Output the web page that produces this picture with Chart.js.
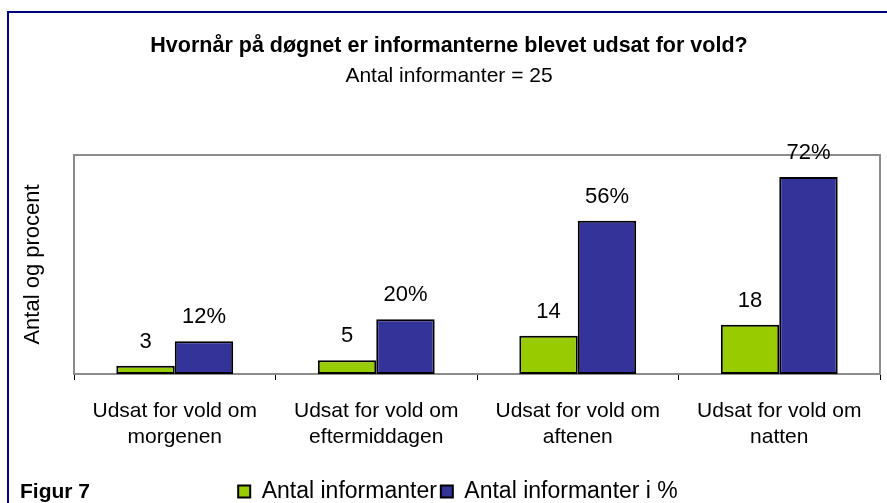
<!DOCTYPE html>
<html>
<head>
<meta charset="utf-8">
<script src="https://cdn.jsdelivr.net/npm/chart.js@4.4.1/dist/chart.umd.min.js"></script>
<style>
  html, body { margin: 0; padding: 0; background: #ffffff; }
  #wrap { width: 887px; height: 503px; position: relative; }
</style>
</head>
<body>
<div id="wrap"><canvas id="c" width="887" height="503"></canvas></div>
<script>
const categories = [
  ["Udsat for vold om", "morgenen"],
  ["Udsat for vold om", "eftermiddagen"],
  ["Udsat for vold om", "aftenen"],
  ["Udsat for vold om", "natten"]
];
const seriesNames = ["Antal informanter", "Antal informanter i %"];
const antal = [3, 5, 14, 18];
const procent = [12, 20, 56, 72];
const labelSuffix = ["", "%"];
const titleText = "Hvornår på døgnet er informanterne blevet udsat for vold?";
const subtitleText = "Antal informanter = 25";
const yTitle = "Antal og procent";
const figText = "Figur 7";

const FONT = "'Liberation Sans', Arial, Helvetica, sans-serif";

const framePlugin = {
  id: 'frame',
  beforeDatasetsDraw(chart) {
    const {ctx, chartArea: a} = chart;
    ctx.save();
    ctx.strokeStyle = '#8c8c8c';
    ctx.lineWidth = 2;
    ctx.strokeRect(a.left, a.top, a.right - a.left, a.bottom - a.top);
    ctx.restore();
  },
  afterDatasetsDraw(chart) {
    const {ctx} = chart;
    ctx.save();
    ctx.font = "22px " + FONT;
    ctx.fillStyle = '#000';
    ctx.textAlign = 'center';
    ctx.textBaseline = 'alphabetic';
    chart.data.datasets.forEach((ds, di) => {
      const meta = chart.getDatasetMeta(di);
      meta.data.forEach((el, i) => {
        ctx.fillText(ds.data[i] + labelSuffix[di], el.x, el.y - 18);
      });
    });
    ctx.restore();
  },
  afterDraw(chart) {
    const {ctx} = chart;
    ctx.save();
    ctx.strokeStyle = '#000080';
    ctx.lineWidth = 2;
    ctx.beginPath();
    ctx.moveTo(8, 600);
    ctx.lineTo(8, 12);
    ctx.lineTo(900, 12);
    ctx.stroke();
    ctx.font = "bold 21px " + FONT;
    ctx.fillStyle = '#000';
    ctx.textAlign = 'left';
    ctx.textBaseline = 'alphabetic';
    ctx.fillText(figText, 20, 498);
    ctx.restore();
  },
  afterLayout(chart) {
    const lg = chart.legend;
    if (lg) {
      lg.left += 9; lg.right += 9;
      lg.top += 10; lg.bottom += 10;
    }
  }
};

new Chart(document.getElementById('c'), {
  type: 'bar',
  data: {
    labels: categories,
    datasets: [
      { label: seriesNames[0], data: antal, backgroundColor: '#99cc00', borderColor: '#000000', borderWidth: 2, borderSkipped: false },
      { label: seriesNames[1], data: procent, backgroundColor: '#333399', borderColor: '#000000', borderWidth: 2, borderSkipped: false }
    ]
  },
  options: {
    responsive: false,
    animation: false,
    devicePixelRatio: 1,
    categoryPercentage: 0.58,
    barPercentage: 1.0,
    layout: { padding: { left: 18, right: 7, top: 0, bottom: 0 } },
    plugins: {
      title: {
        display: true, text: titleText, color: '#000',
        font: { family: FONT, size: 21.5, weight: 'bold' },
        padding: { top: 33, bottom: 5 }
      },
      subtitle: {
        display: true, text: subtitleText, color: '#000',
        font: { family: FONT, size: 21, weight: 'normal' },
        padding: { top: 0, bottom: 66 }
      },
      legend: {
        display: true, position: 'bottom',
        labels: {
          color: '#000', boxWidth: 12, boxHeight: 12, padding: 4,
          font: { family: FONT, size: 23 }
        }
      },
      tooltip: { enabled: false }
    },
    scales: {
      x: {
        grid: { display: true, drawOnChartArea: false, drawTicks: true, tickLength: 6, color: '#000', offset: true },
        border: { display: true, color: '#000', width: 2 },
        ticks: { color: '#000', font: { family: FONT, size: 21, lineHeight: 1.2 }, padding: 19, maxRotation: 0 },
        afterFit(scale) { scale.height = 92; }
      },
      y: {
        min: 0, max: 80,
        grid: { display: false },
        border: { display: true, color: '#8c8c8c', width: 2 },
        ticks: { display: false },
        title: { display: true, text: yTitle, color: '#000', font: { family: FONT, size: 22 }, padding: { top: 2, bottom: 0 } },
        afterFit(scale) { scale.width = 56; }
      }
    }
  },
  plugins: [framePlugin]
});
</script>
</body>
</html>
